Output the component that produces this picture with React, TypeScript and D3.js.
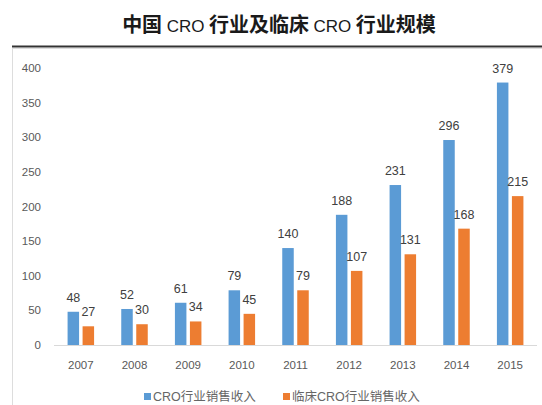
import React from "react";
import * as d3 from "d3";

const years = ["2007", "2008", "2009", "2010", "2011", "2012", "2013", "2014", "2015"];
const croRevenue = [48, 52, 61, 79, 140, 188, 231, 296, 379];
const clinicalRevenue = [27, 30, 34, 45, 79, 107, 131, 168, 215];
const yTicks = [0, 50, 100, 150, 200, 250, 300, 350, 400];
const seriesNames = ["CRO行业销售收入", "临床CRO行业销售收入"];

const W = 542;
const H = 405;
const BLUE = "#5B9BD5";
const ORANGE = "#ED7D31";
const FONT = "'Liberation Sans', 'Noto Sans CJK SC', sans-serif";
const CJK = "'Noto Sans CJK SC', sans-serif";

export default function App() {
  const x = d3.scaleBand<string>().domain(years).range([54, 537]);
  const y = d3.scaleLinear().domain([0, 400]).range([345, 68]);
  const bw = 11.5;
  const gap = 3.5;
  return (
    <svg width={W} height={H} style={{ position: "absolute", left: 0, top: 0 }}>
      <rect x={0} y={0} width={W} height={H} fill="#fff" />
      <text x={279} y={32} textAnchor="middle" fontFamily={CJK} fontWeight="bold" fontSize={20} fill="#1a1a1a">
        中国 <tspan fontFamily="'Liberation Sans', sans-serif" fontWeight="normal" fontSize={17}>CRO</tspan> 行业及临床 <tspan fontFamily="'Liberation Sans', sans-serif" fontWeight="normal" fontSize={17}>CRO</tspan> 行业规模
      </text>
      <line x1={12} x2={W} y1={46.5} y2={46.5} stroke="#333" strokeWidth={2} />
      <line x1={12} x2={W} y1={48.5} y2={48.5} stroke="#ddd" strokeWidth={1} />
      <line x1={12.5} x2={12.5} y1={48} y2={H} stroke="#ddd" strokeWidth={1} />
      {yTicks.map((t) => (
        <text key={t} x={41} y={y(t) + 4} textAnchor="end" fontFamily={FONT} fontSize={11.5} fill="#595959">
          {t}
        </text>
      ))}
      <line x1={54} x2={537} y1={345.5} y2={345.5} stroke="#d9d9d9" strokeWidth={1} />
      {years.map((yr, i) => {
        const c = (x(yr) as number) + x.bandwidth() / 2;
        const bx = c - gap / 2 - bw;
        const ox = c + gap / 2;
        return (
          <g key={yr}>
            <rect x={bx} y={y(croRevenue[i])} width={bw} height={345 - y(croRevenue[i])} fill={BLUE} />
            <rect x={ox} y={y(clinicalRevenue[i])} width={bw} height={345 - y(clinicalRevenue[i])} fill={ORANGE} />
            <text x={bx + bw / 2} y={y(croRevenue[i]) - 10} textAnchor="middle" fontFamily={FONT} fontSize={12.5} fill="#404040">
              {croRevenue[i]}
            </text>
            <text x={ox + bw / 2} y={y(clinicalRevenue[i]) - 10} textAnchor="middle" fontFamily={FONT} fontSize={12.5} fill="#404040">
              {clinicalRevenue[i]}
            </text>
            <text x={c} y={369} textAnchor="middle" fontFamily={FONT} fontSize={11.5} fill="#595959">
              {yr}
            </text>
          </g>
        );
      })}
      <rect x={144} y={393} width={7} height={7} fill={BLUE} />
      <text x={153} y={401} fontFamily={FONT} fontSize={12.5} fill="#666">{seriesNames[0]}</text>
      <rect x={283} y={393} width={7} height={7} fill={ORANGE} />
      <text x={292} y={401} fontFamily={FONT} fontSize={12.5} fill="#666">{seriesNames[1]}</text>
    </svg>
  );
}
